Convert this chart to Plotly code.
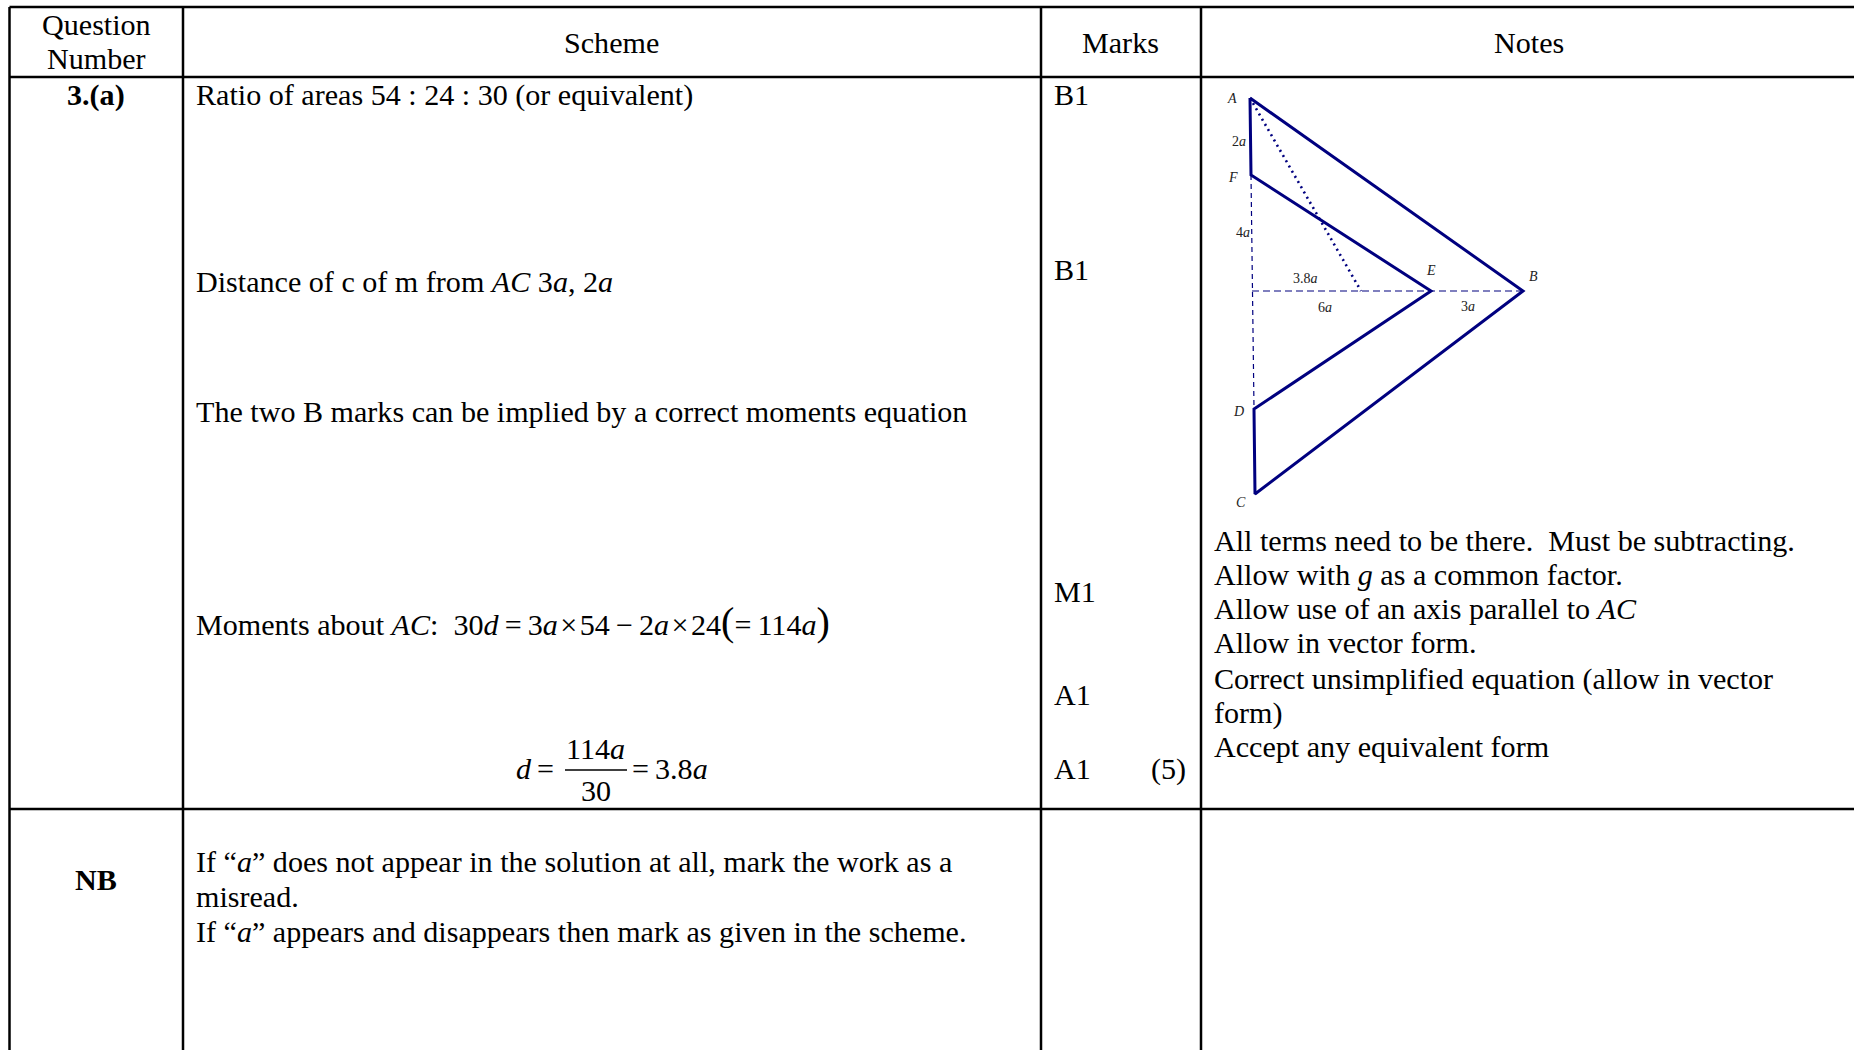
import plotly.graph_objects as go

# table rules, in page pixels
col_x = [9.5, 183, 1041, 1201]
row_y = [7, 77, 809]

header_text = ["Question", "Number", "Scheme", "Marks", "Notes"]
header_x = [96, 96, 611, 1120, 1529]
header_y = [25, 59, 43, 43, 43]

question_text = ["<b>3.(a)</b>", "<b>NB</b>"]
question_y = [95, 880]

scheme_text = [
    "Ratio of areas 54 : 24 : 30 (or equivalent)",
    "Distance of c of m from <i>AC</i> 3<i>a</i>, 2<i>a</i>",
    "The two B marks can be implied by a correct moments equation",
    "Moments about <i>AC</i>:  30<i>d</i>\u2009=\u20093<i>a</i>\u200a×\u200a54\u2009−\u20092<i>a</i>\u200a×\u200a24"
    "<span style=\"font-size:40px\">(</span>=\u2009114<i>a</i><span style=\"font-size:40px\">)</span>",
    "If “<i>a</i>” does not appear in the solution at all, mark the work as a",
    "misread.",
    "If “<i>a</i>” appears and disappears then mark as given in the scheme.",
]
scheme_y = [95, 282, 412, 621, 862, 897, 932]

fraction_text = ["<i>d</i>\u2009=", "114<i>a</i>", "30", "=\u20093.8<i>a</i>"]
fraction_x = [516, 595, 596, 632]
fraction_y = [769, 749, 791, 769]
fraction_bar_x = [565, 627]
fraction_bar_y = [770, 770]

marks_text = ["B1", "B1", "M1", "A1", "A1"]
marks_y = [95, 270, 592, 695, 769]
total_text = "(5)"

notes_text = [
    "All terms need to be there.  Must be subtracting.",
    "Allow with <i>g</i> as a common factor.",
    "Allow use of an axis parallel to <i>AC</i>",
    "Allow in vector form.",
    "Correct unsimplified equation (allow in vector",
    "form)",
    "Accept any equivalent form",
]
notes_y = [541, 575, 609, 643, 679, 713, 747]

# the diagram
outline_x = [1250, 1523, 1255, 1254, 1431, 1251, 1250]
outline_y = [98, 291, 494, 409, 291, 175, 98]
dashed_v_x = [1251, 1254]
dashed_v_y = [175, 409]
dashed_h_x = [1252, 1523]
dashed_h_y = [291, 291]
dotted_x = [1250, 1361]
dotted_y = [98, 291]

diagram_labels = ["A", "2a", "F", "4a", "3.8a", "E", "B", "6a", "3a", "D", "C"]
diagram_label_x = [1232, 1239, 1233, 1243, 1305, 1431, 1533, 1325, 1468, 1238, 1241]
diagram_label_y = [98, 141, 177, 232, 278, 270, 276, 307, 306, 411, 502]

serif = "Liberation Serif"
navy = "#00007f"


def texto(fig, x, y, text, size=30.1, anchor="left", color="black"):
    fig.add_annotation(x=x, y=y, text=text, showarrow=False, xanchor=anchor,
                       yanchor="middle", align=anchor, borderpad=0, borderwidth=0,
                       font=dict(family=serif, size=size, color=color))


def diagram_label(label):
    # numbers stay upright, letters go italic
    if label[:-1]:
        return label[:-1] + "<i>" + label[-1] + "</i>"
    return "<i>" + label + "</i>"


fig = go.Figure()

fig.add_trace(go.Scatter(x=dashed_v_x, y=dashed_v_y, mode="lines",
                         line=dict(color=navy, width=1.2, dash="5px,4px")))
fig.add_trace(go.Scatter(x=dashed_h_x, y=dashed_h_y, mode="lines",
                         line=dict(color=navy, width=1.2, dash="7px,4px")))
fig.add_trace(go.Scatter(x=dotted_x, y=dotted_y, mode="lines",
                         line=dict(color=navy, width=2.6, dash="2px,4px")))
fig.add_trace(go.Scatter(x=outline_x, y=outline_y, mode="lines",
                         line=dict(color=navy, width=3)))
fig.add_trace(go.Scatter(x=fraction_bar_x, y=fraction_bar_y, mode="lines",
                         line=dict(color="black", width=1.5)))

for x in col_x:
    fig.add_shape(type="line", x0=x, x1=x, y0=row_y[0], y1=1050,
                  line=dict(color="black", width=2.5))
for y in row_y:
    fig.add_shape(type="line", x0=col_x[0], x1=1854, y0=y, y1=y,
                  line=dict(color="black", width=2.5))

for t, x, y in zip(header_text, header_x, header_y):
    texto(fig, x, y, t, anchor="center")
for t, y in zip(question_text, question_y):
    texto(fig, 96, y, t, anchor="center")
for t, y in zip(scheme_text, scheme_y):
    texto(fig, 196, y, t)
for t, x, y in zip(fraction_text, fraction_x, fraction_y):
    texto(fig, x, y, t, anchor="center" if t in fraction_text[1:3] else "left")
for t, y in zip(marks_text, marks_y):
    texto(fig, 1054, y, t)
texto(fig, 1186, 769, total_text, anchor="right")
for t, y in zip(notes_text, notes_y):
    texto(fig, 1214, y, t)
for t, x, y in zip(diagram_labels, diagram_label_x, diagram_label_y):
    texto(fig, x, y, diagram_label(t), size=14, anchor="center", color="#222222")

fig.update_layout(
    width=1854,
    height=1050,
    margin=dict(t=0, b=0, l=0, r=0),
    showlegend=False,
    paper_bgcolor="white",
    plot_bgcolor="white",
    xaxis=dict(range=[0, 1854], visible=False, fixedrange=True),
    yaxis=dict(range=[1050, 0], visible=False, fixedrange=True),
)

fig.write_html("out.html", config=dict(displayModeBar=False),
               post_script="document.body.style.margin='0';document.body.style.overflow='hidden';")
